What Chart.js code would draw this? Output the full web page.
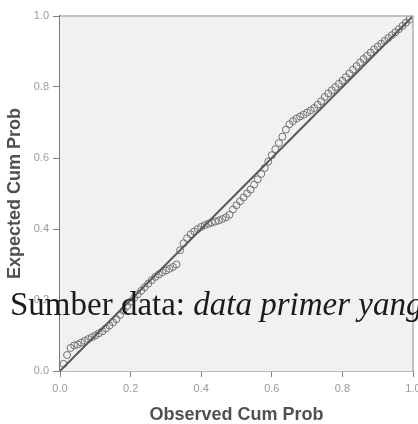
<!DOCTYPE html>
<html>
<head>
<meta charset="utf-8">
<script src="https://cdn.jsdelivr.net/npm/chart.js@4"></script>
<style>
    html, body { margin: 0; padding: 0; background: #fff; overflow: hidden; }
    #wrap { position: relative; width: 418px; height: 424px; overflow: hidden; }
    #note {
        position: absolute;
        left: 10px;
        top: 288px;
        font: 33px "Liberation Serif", "Times New Roman", serif;
        line-height: 32px;
        color: #1a1a1a;
        white-space: nowrap;
    }
</style>
</head>
<body>
<div id="wrap">
    <canvas id="ppChart" width="418" height="424"></canvas>
    <div id="note">Sumber data: <i>data primer yang</i></div>
</div>
<script>
// P-P plot of residuals: observed vs expected cumulative probability
const observedCumProb = [
    0.01, 0.02, 0.03, 0.04, 0.05, 0.06, 0.07, 0.08, 0.09, 0.10,
    0.11, 0.12, 0.13, 0.14, 0.15, 0.16, 0.17, 0.18, 0.19, 0.20,
    0.21, 0.22, 0.23, 0.24, 0.25, 0.26, 0.27, 0.28, 0.29, 0.30,
    0.31, 0.32, 0.33, 0.34, 0.35, 0.36, 0.37, 0.38, 0.39, 0.40,
    0.41, 0.42, 0.43, 0.44, 0.45, 0.46, 0.47, 0.48, 0.49, 0.50,
    0.51, 0.52, 0.53, 0.54, 0.55, 0.56, 0.57, 0.58, 0.59, 0.60,
    0.61, 0.62, 0.63, 0.64, 0.65, 0.66, 0.67, 0.68, 0.69, 0.70,
    0.71, 0.72, 0.73, 0.74, 0.75, 0.76, 0.77, 0.78, 0.79, 0.80,
    0.81, 0.82, 0.83, 0.84, 0.85, 0.86, 0.87, 0.88, 0.89, 0.90,
    0.91, 0.92, 0.93, 0.94, 0.95, 0.96, 0.97, 0.98, 0.99,
];
const expectedCumProb = [
    0.020, 0.045, 0.065, 0.072, 0.075, 0.080, 0.085, 0.090, 0.095, 0.100,
    0.106, 0.112, 0.120, 0.128, 0.137, 0.146, 0.158, 0.170, 0.183, 0.195,
    0.206, 0.216, 0.226, 0.236, 0.246, 0.256, 0.265, 0.272, 0.278, 0.283,
    0.288, 0.293, 0.300, 0.340, 0.360, 0.374, 0.385, 0.393, 0.400, 0.406,
    0.411, 0.415, 0.418, 0.421, 0.424, 0.428, 0.433, 0.440, 0.455, 0.467,
    0.478, 0.489, 0.500, 0.511, 0.525, 0.540, 0.555, 0.572, 0.590, 0.608,
    0.625, 0.642, 0.660, 0.680, 0.695, 0.704, 0.711, 0.717, 0.722, 0.728,
    0.734, 0.741, 0.750, 0.760, 0.772, 0.782, 0.791, 0.800, 0.809, 0.818,
    0.828, 0.838, 0.849, 0.859, 0.869, 0.879, 0.888, 0.897, 0.906, 0.914,
    0.922, 0.930, 0.938, 0.946, 0.954, 0.963, 0.972, 0.981, 0.990,
];
const refLine = [0, 1];
const tickValues = [0, 0.2, 0.4, 0.6, 0.8, 1.0];

const points = observedCumProb.map((x, i) => ({ x: x, y: expectedCumProb[i] }));
const linePoints = refLine.map((v) => ({ x: v, y: v }));

const plotFrame = {
    id: "plotFrame",
    beforeDatasetsDraw(chart) {
        const { ctx, chartArea: a } = chart;
        ctx.save();
        ctx.fillStyle = "#f1f1f1";
        ctx.fillRect(a.left, a.top, a.right - a.left, a.bottom - a.top);
        ctx.restore();
    },
    afterDraw(chart) {
        const { ctx, chartArea: a } = chart;
        ctx.save();
        ctx.strokeStyle = "#b0b0b0";
        ctx.lineWidth = 1.5;
        ctx.beginPath();
        ctx.moveTo(a.left, a.top);
        ctx.lineTo(a.right, a.top);
        ctx.lineTo(a.right, a.bottom);
        ctx.stroke();
        ctx.restore();
    },
};

const tickFont = { family: "Liberation Sans, Arial, sans-serif", size: 11 };
const titleFont = { family: "Liberation Sans, Arial, sans-serif", size: 18, weight: "bold", lineHeight: 1 };

new Chart(document.getElementById("ppChart"), {
    type: "scatter",
    data: {
        datasets: [
            {
                type: "line",
                data: linePoints,
                borderColor: "#595959",
                borderWidth: 2,
                pointRadius: 0,
                order: 0,
            },
            {
                data: points,
                pointStyle: "circle",
                pointRadius: 3.5,
                borderWidth: 1,
                borderColor: "#727272",
                backgroundColor: "rgba(0, 0, 0, 0)",
                order: 1,
            },
        ],
    },
    options: {
        responsive: false,
        animation: false,
        layout: { padding: { top: 16, right: 5, left: 0, bottom: 0 } },
        plugins: {
            legend: { display: false },
            tooltip: { enabled: false },
        },
        scales: {
            x: {
                type: "linear",
                min: 0,
                max: 1,
                afterBuildTicks: (scale) => {
                    scale.ticks = tickValues.map((v) => ({ value: v }));
                },
                afterFit: (scale) => {
                    scale.height = 53;
                    scale.paddingLeft = 0;
                    scale.paddingRight = 0;
                },
                ticks: {
                    color: "#9a9a9a",
                    font: tickFont,
                    padding: 5,
                    maxRotation: 0,
                    callback: (v) => Number(v).toFixed(1),
                },
                grid: { drawOnChartArea: false, drawTicks: true, tickLength: 6, color: "#808080" },
                border: { display: true, color: "#7a7a7a", width: 1.5 },
                title: {
                    display: true,
                    text: "Observed Cum Prob",
                    color: "#505050",
                    font: titleFont,
                    padding: { top: 0, bottom: 0 },
                },
            },
            y: {
                type: "linear",
                min: 0,
                max: 1,
                afterBuildTicks: (scale) => {
                    scale.ticks = tickValues.map((v) => ({ value: v }));
                },
                afterFit: (scale) => {
                    scale.width = 60;
                    scale.paddingTop = 0;
                    scale.paddingBottom = 0;
                },
                ticks: {
                    color: "#9a9a9a",
                    font: tickFont,
                    padding: 4,
                    callback: (v) => Number(v).toFixed(1),
                },
                grid: { drawOnChartArea: false, drawTicks: true, tickLength: 7, color: "#808080" },
                border: { display: true, color: "#7a7a7a", width: 1.5 },
                title: {
                    display: true,
                    text: "Expected Cum Prob",
                    color: "#505050",
                    font: titleFont,
                    padding: { top: 6, bottom: 0 },
                },
            },
        },
    },
    plugins: [plotFrame],
});
</script>
</body>
</html>
